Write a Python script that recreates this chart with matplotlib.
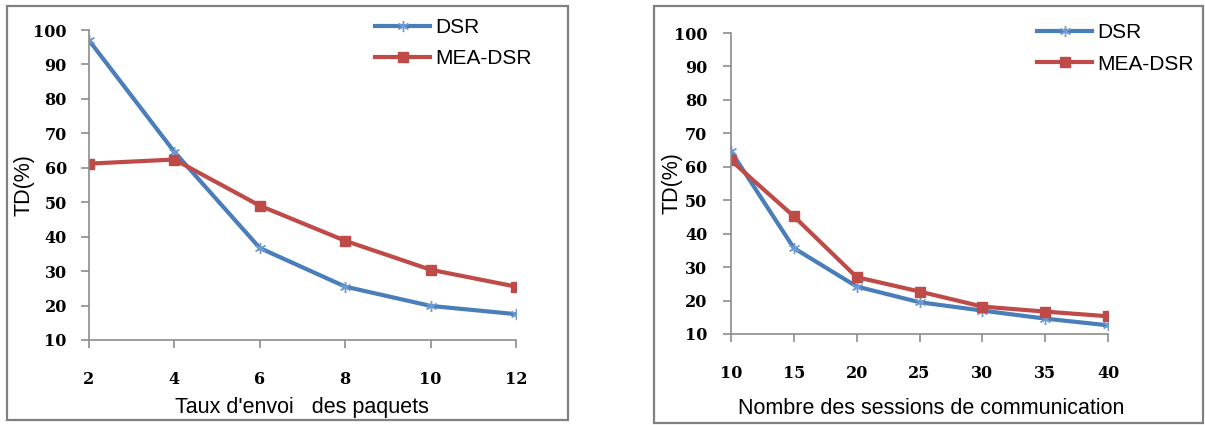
import matplotlib
matplotlib.use("Agg")
import matplotlib.pyplot as plt
from matplotlib.patches import Rectangle

# ---- data ----
rate_x = [2, 4, 6, 8, 10, 12]
rate_dsr = [97.0, 64.6, 36.7, 25.5, 19.9, 17.5]
rate_mea = [61.2, 62.4, 49.0, 38.8, 30.4, 25.5]

sess_x = [10, 15, 20, 25, 30, 35, 40]
sess_dsr = [64.6, 35.7, 24.2, 19.5, 17.0, 14.6, 12.6]
sess_mea = [61.9, 45.2, 27.0, 22.7, 18.2, 16.7, 15.3]

y_ticks = [10, 20, 30, 40, 50, 60, 70, 80, 90, 100]
series_names = ["DSR", "MEA-DSR"]
xlabels = ["Taux d'envoi   des paquets", "Nombre des sessions de communication"]
ylabel = "TD(%)"

plt.rcParams["font.family"] = "DejaVu Serif"
plt.rcParams["font.weight"] = "bold"
plt.rcParams["font.size"] = 11

W, H = 1205, 425
fig = plt.figure(figsize=(W / 100, H / 100), dpi=100)

BLUE = "#4A7EBB"
RED = "#BE4B48"
GRAY = "#8C8C8C"
SANS = "Liberation Sans"


def px_axes(x0, x1, ytop, ybot):
    return fig.add_axes([x0 / W, 1 - ybot / H, (x1 - x0) / W, (ybot - ytop) / H])


def frame(x0, x1, ytop, ybot):
    fig.patches.append(Rectangle((x0 / W, 1 - ybot / H), (x1 - x0) / W, (ybot - ytop) / H,
                                 transform=fig.transFigure, fill=False,
                                 edgecolor="#808080", linewidth=1.6))


def panel(ax, xs, dsr, mea, xpad, ypad, leg_xy):
    l1, = ax.plot(xs, dsr, color=BLUE, lw=3.0, marker=(6, 2, 0), ms=8,
                  mec="#6F9BD2", mew=1.0, label=series_names[0], solid_joinstyle="round")
    l2, = ax.plot(xs, mea, color=RED, lw=3.0, marker="s", ms=6.5,
                  mfc=RED, mec=RED, label=series_names[1])
    ax.set_xlim(xs[0], xs[-1])
    ax.set_ylim(10, 100)
    ax.set_xticks(xs)
    ax.set_yticks(y_ticks)
    for s in ["top", "right"]:
        ax.spines[s].set_visible(False)
    for s in ["left", "bottom"]:
        ax.spines[s].set_color(GRAY)
        ax.spines[s].set_linewidth(1.2)
    ax.tick_params(axis="both", direction="out", color=GRAY, width=1.2, length=6,
                   labelsize=11.5)
    ax.tick_params(axis="x", pad=xpad)
    ax.tick_params(axis="y", pad=ypad)
    ax.legend(handles=[l1, l2], loc="upper left",
              bbox_to_anchor=(leg_xy[0] / W, 1 - leg_xy[1] / H),
              bbox_transform=fig.transFigure, frameon=False,
              prop=dict(family=SANS, size=15, weight="normal"), borderpad=0, borderaxespad=0,
              handlelength=2.65, handletextpad=0.25, labelspacing=0.6)


# left panel
frame(7, 568, 6, 420)
axL = px_axes(89, 516, 30, 340)
panel(axL, rate_x, rate_dsr, rate_mea, xpad=16, ypad=10, leg_xy=(375, 18))
fig.text(302 / W, 1 - 407 / H, xlabels[0], ha="center", va="center",
         family=SANS, size=15.5, weight="normal")
fig.text(24 / W, 1 - 185 / H, ylabel, ha="center", va="center", rotation=90,
         family=SANS, size=15.5, weight="normal")

# right panel
frame(654, 1203, 6, 423)
axR = px_axes(731, 1108, 33, 334)
panel(axR, sess_x, sess_dsr, sess_mea, xpad=16.5, ypad=11, leg_xy=(1037, 23))
fig.text(931 / W, 1 - 408 / H, xlabels[1], ha="center", va="center",
         family=SANS, size=15.5, weight="normal")
fig.text(672 / W, 1 - 183 / H, ylabel, ha="center", va="center", rotation=90,
         family=SANS, size=15.5, weight="normal")

fig.savefig("out.png", dpi=100)
